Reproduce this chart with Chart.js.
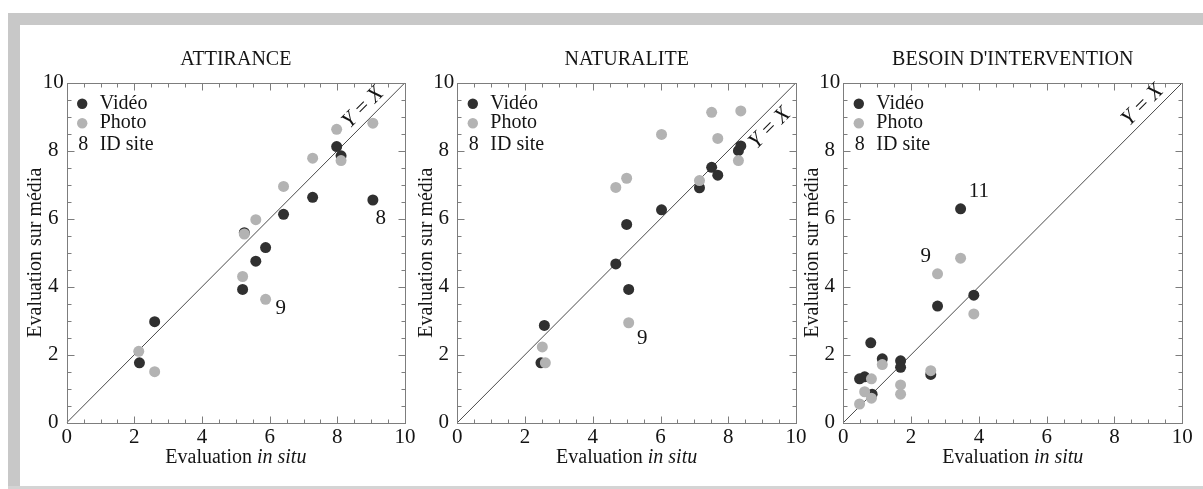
<!DOCTYPE html>
<html><head><meta charset="utf-8">
<script src="https://cdn.jsdelivr.net/npm/chart.js@4.4.1/dist/chart.umd.min.js"></script>
<style>
html,body{margin:0;padding:0;background:#fff;}
#wrap{position:relative;width:1203px;height:489px;overflow:hidden;background:#fff;}
.band{position:absolute;background:#c8c8c8;}
canvas{position:absolute;top:0;}
</style></head>
<body>
<div id="wrap">
  <div class="band" style="left:8px;top:13px;width:1195px;height:12px;"></div>
  <div class="band" style="left:8px;top:13px;width:12px;height:476px;"></div>
  <div class="band" style="left:8px;top:486px;width:1195px;height:3px;background:#d4d4d4;"></div>
  <canvas id="c1"></canvas>
  <canvas id="c2"></canvas>
  <canvas id="c3"></canvas>
</div>
<script>
// ---------- data ----------
const tickValues = [0, 2, 4, 6, 8, 10];
const diagX = [0, 10];
const diagY = [0, 10];

// ATTIRANCE
const attVideoX = [2.15, 2.6, 5.2, 5.25, 5.59, 5.88, 6.41, 7.27, 7.98, 8.11, 9.05];
const attVideoY = [1.76, 2.97, 3.92, 5.59, 4.75, 5.15, 6.13, 6.63, 8.12, 7.85, 6.55];
const attPhotoX = [2.13, 2.6, 5.2, 5.25, 5.59, 5.88, 6.41, 7.27, 7.98, 8.11, 9.05];
const attPhotoY = [2.1, 1.5, 4.3, 5.55, 5.97, 3.63, 6.95, 7.78, 8.63, 7.71, 8.81];
const attSiteText = ['9', '8'];
const attSiteX = [6.33, 9.28];
const attSiteY = [3.36, 6.01];

// NATURALITE
const natVideoX = [2.47, 2.57, 4.68, 5.0, 5.06, 6.03, 7.15, 7.51, 7.69, 8.3, 8.37];
const natVideoY = [1.76, 2.86, 4.67, 5.83, 3.92, 6.26, 6.91, 7.51, 7.28, 8.0, 8.14];
const natPhotoX = [2.51, 2.6, 4.68, 5.0, 5.06, 6.03, 7.15, 7.51, 7.69, 8.3, 8.37];
const natPhotoY = [2.23, 1.76, 6.92, 7.19, 2.94, 8.48, 7.12, 9.13, 8.36, 7.71, 9.17];
const natSiteText = ['9'];
const natSiteX = [5.46];
const natSiteY = [2.48];

// BESOIN D'INTERVENTION
const besVideoX = [0.48, 0.63, 0.81, 0.85, 1.15, 1.69, 1.69, 2.58, 2.78, 3.46, 3.85];
const besVideoY = [1.29, 1.35, 2.35, 0.84, 1.88, 1.82, 1.63, 1.42, 3.43, 6.29, 3.75];
const besPhotoX = [0.48, 0.63, 0.83, 0.83, 1.15, 1.69, 1.69, 2.58, 2.78, 3.46, 3.85];
const besPhotoY = [0.55, 0.91, 1.29, 0.72, 1.71, 1.11, 0.84, 1.53, 4.38, 4.84, 3.2];
const besSiteText = ['11', '9'];
const besSiteX = [4.0, 2.43];
const besSiteY = [6.79, 4.88];

const titles = ['ATTIRANCE', 'NATURALITE', "BESOIN D'INTERVENTION"];
const legendLabels = ['Vidéo', 'Photo', 'ID site'];
const legendIdSample = '8';
const yTitle = 'Evaluation sur média';
const xTitleA = 'Evaluation ';
const xTitleB = 'in situ';
const diagLabel = 'Y\u2009=\u2009X';

// ---------- styles ----------
const FONT = "'Liberation Serif', 'Times New Roman', serif";
const TXT = '#141414';
const AXIS = '#7d7d7d';
const DARK = '#303030';
const LIGHT = '#b3b3b3';
const TOP = 82.7, BOTTOM = 422.7, H = 489;

const zip = (xs, ys) => xs.map((v, i) => ({x: v, y: ys[i]}));

const panels = [
  {id: 'c1', left: 66.7, right: 405, title: titles[0],
   vx: attVideoX, vy: attVideoY, px: attPhotoX, py: attPhotoY,
   st: attSiteText, sx: attSiteX, sy: attSiteY, diag: {x: 8.76, y: 9.27}},
  {id: 'c2', left: 457.3, right: 796, title: titles[1],
   vx: natVideoX, vy: natVideoY, px: natPhotoX, py: natPhotoY,
   st: natSiteText, sx: natSiteX, sy: natSiteY, diag: {x: 9.23, y: 8.66}},
  {id: 'c3', left: 843.3, right: 1182.3, title: titles[2],
   vx: besVideoX, vy: besVideoY, px: besPhotoX, py: besPhotoY,
   st: besSiteText, sx: besSiteX, sy: besSiteY, diag: {x: 8.83, y: 9.34}},
];

function decor(p) {
  return {
    id: 'decor_' + p.id,
    afterDraw(chart) {
      const {ctx, chartArea: a, scales: {x, y}} = chart;
      ctx.save();
      // frame
      ctx.strokeStyle = AXIS; ctx.lineWidth = 1;
      const L = Math.round(a.left) + 0.5, R = Math.round(a.right) + 0.5;
      const T = Math.round(a.top) + 0.5, B = Math.round(a.bottom) + 0.5;
      ctx.strokeRect(L, T, R - L, B - T);
      // inward ticks on all four sides
      ctx.beginPath();
      for (let v = 0; v <= 10.001; v += 0.5) {
        const major = Math.abs(v % 2) < 1e-6;
        const len = major ? 7 : 4;
        const xp = Math.round(x.getPixelForValue(v)) + 0.5;
        const yp = Math.round(y.getPixelForValue(v)) + 0.5;
        ctx.moveTo(xp, B); ctx.lineTo(xp, B - len);
        ctx.moveTo(xp, T); ctx.lineTo(xp, T + len);
        ctx.moveTo(L, yp); ctx.lineTo(L + len, yp);
        ctx.moveTo(R, yp); ctx.lineTo(R - len, yp);
      }
      ctx.stroke();

      ctx.fillStyle = TXT;
      ctx.textBaseline = 'middle';
      // panel title
      ctx.textAlign = 'center';
      ctx.font = '20px ' + FONT;
      ctx.fillText(p.title, (a.left + a.right) / 2, a.top - 22.7);
      // x title (mixed roman / italic)
      const fa = '20px ' + FONT, fb = 'italic 20px ' + FONT;
      ctx.font = fa; const wa = ctx.measureText(xTitleA).width;
      ctx.font = fb; const wb = ctx.measureText(xTitleB).width;
      const sx0 = (a.left + a.right) / 2 - (wa + wb) / 2;
      ctx.textAlign = 'left';
      ctx.font = fa; ctx.fillText(xTitleA, sx0, a.bottom + 35);
      ctx.font = fb; ctx.fillText(xTitleB, sx0 + wa, a.bottom + 35);
      // y title
      ctx.save();
      ctx.translate(a.left - 31, (a.top + a.bottom) / 2);
      ctx.rotate(-Math.PI / 2);
      ctx.textAlign = 'center';
      ctx.font = fa;
      ctx.fillText(yTitle, 0, 0);
      ctx.restore();

      // legend
      const lx = a.left + 15.5, tx = a.left + 33;
      const rows = [a.top + 21, a.top + 40.5, a.top + 62];
      ctx.fillStyle = DARK;
      ctx.beginPath(); ctx.arc(lx, rows[0], 5.2, 0, Math.PI * 2); ctx.fill();
      ctx.fillStyle = LIGHT;
      ctx.beginPath(); ctx.arc(lx, rows[1], 5.2, 0, Math.PI * 2); ctx.fill();
      ctx.fillStyle = TXT;
      ctx.font = '20px ' + FONT;
      ctx.textAlign = 'center';
      ctx.fillText(legendIdSample, lx + 1, rows[2]);
      ctx.textAlign = 'left';
      legendLabels.forEach((t, i) => ctx.fillText(t, tx, rows[i]));

      // site id labels
      ctx.textAlign = 'center';
      ctx.font = '21px ' + FONT;
      p.st.forEach((t, i) => ctx.fillText(t, x.getPixelForValue(p.sx[i]), y.getPixelForValue(p.sy[i])));

      // Y = X label
      ctx.save();
      ctx.translate(x.getPixelForValue(p.diag.x), y.getPixelForValue(p.diag.y));
      ctx.rotate(-Math.PI / 4);
      ctx.font = 'italic 22px ' + FONT;
      ctx.textAlign = 'center';
      ctx.fillText(diagLabel, 0, 0);
      ctx.restore();
      ctx.restore();
    }
  };
}

panels.forEach(p => {
  const cv = document.getElementById(p.id);
  const cl = Math.floor(p.left) - 60;
  const cw = Math.ceil(p.right) + 22 - cl;
  cv.style.left = cl + 'px';
  cv.width = cw; cv.height = H;
  cv.style.width = cw + 'px'; cv.style.height = H + 'px';
  const yW = p.left - cl;
  const padR = cl + cw - p.right;
  const xH = 57;
  const padB = H - BOTTOM - xH;
  const tickFont = {family: FONT, size: 21};
  new Chart(cv, {
    type: 'scatter',
    data: {
      datasets: [
        {type: 'line', data: zip(diagX, diagY), borderColor: '#4a4a4a', borderWidth: 1,
         pointRadius: 0, fill: false, order: 3},
        {label: legendLabels[0], data: zip(p.vx, p.vy), backgroundColor: DARK,
         borderWidth: 0, pointRadius: 5.5, pointHoverRadius: 5.5, order: 2},
        {label: legendLabels[1], data: zip(p.px, p.py), backgroundColor: LIGHT,
         borderWidth: 0, pointRadius: 5.5, pointHoverRadius: 5.5, order: 1},
      ]
    },
    options: {
      responsive: false, animation: false, devicePixelRatio: 1,
      layout: {padding: {top: TOP, bottom: padB, left: 0, right: padR}},
      plugins: {legend: {display: false}, tooltip: {enabled: false}},
      events: [],
      scales: {
        x: {type: 'linear', min: 0, max: 10, position: 'bottom',
            afterBuildTicks: s => { s.ticks = tickValues.map(v => ({value: v})); },
            ticks: {padding: 2, color: TXT, font: tickFont, maxRotation: 0, autoSkip: false},
            grid: {display: false, drawTicks: false}, border: {display: false},
            afterFit: s => { s.height = xH; }},
        y: {type: 'linear', min: 0, max: 10, position: 'left',
            afterBuildTicks: s => { s.ticks = tickValues.map(v => ({value: v})); },
            ticks: {padding: 3, color: TXT, font: tickFont, crossAlign: 'center', autoSkip: false},
            grid: {display: false, drawTicks: false}, border: {display: false},
            afterFit: s => { s.width = yW; }}
      }
    },
    plugins: [decor(p)]
  });
});
</script>
</body></html>
